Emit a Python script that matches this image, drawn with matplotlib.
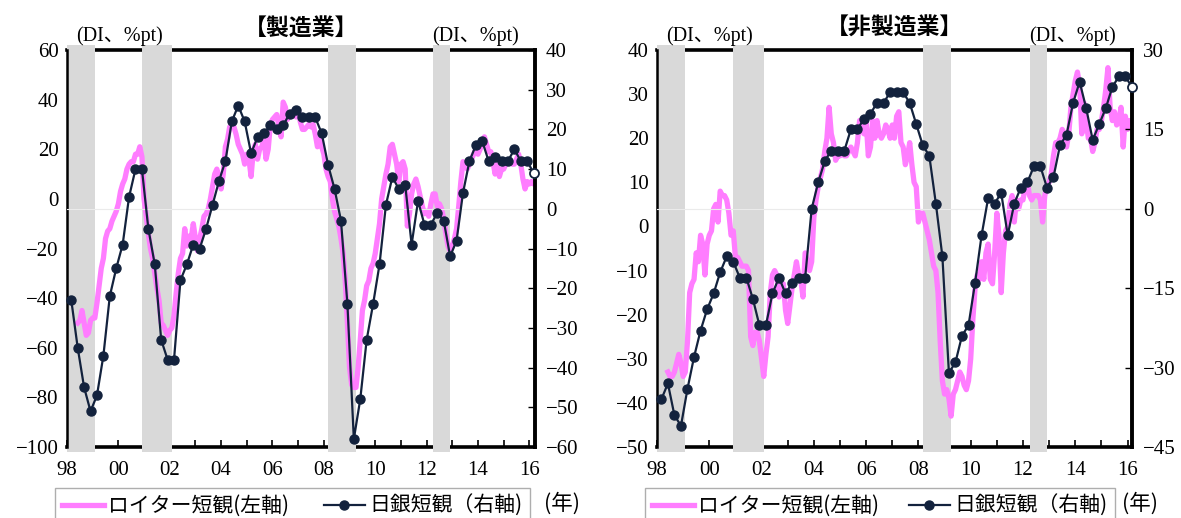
import matplotlib.pyplot as plt
import numpy as np
from matplotlib.lines import Line2D

plt.rcParams['font.family'] = ['Liberation Serif', 'Noto Sans CJK JP']

# Reuters Tankan, monthly from Jun 1998 (left axis)
reuters_mfg = [
    -50, -49, -45, -50, -55, -54, -49,                      # 1998 Jun-Dec
    -48, -48, -42, -35, -28, -24, -16, -13, -12, -9, -7, -5,  # 1999
    -2, 3, 6, 8, 12, 14, 15, 15, 18, 18, 21, 17,            # 2000
    0, -7, -14, -20, -24, -30, -36, -41, -50, -51, -53, -55,  # 2001
    -53, -52, -47, -38, -30, -24, -22, -12, -19, -15, -16, -10,  # 2002
    -16, -21, -16, -12, -7, -6, -4, 0, 5, 10, 12, 9,        # 2003
    4, 10, 21, 24, 29, 30, 29, 26, 22, 20, 18, 14,          # 2004
    18, 16, 9, 19, 22, 16, 20, 21, 24, 16, 20, 30,          # 2005
    32, 33, 34, 29, 25, 39, 37, 32, 34, 35, 34, 33,         # 2006
    36, 31, 28, 28, 29, 30, 29, 30, 26, 21, 24, 21,         # 2007
    18, 12, 9, 7, 0, -5, -8, -11, -16, -22, -33, -50,       # 2008
    -68, -75, -76, -76, -68, -57, -45, -41, -35, -33, -28, -26,  # 2009
    -22, -16, -10, 0, 5, 10, 14, 21, 22, 18, 14, 7,         # 2010
    14, 15, 12, -11, -6, 2, 6, 8, 5, 1, -3, -6,             # 2011
    -5, -7, -2, 2, 2, -3, -2, -4, -8, -14, -19, -21,        # 2012
    -19, -16, -12, -3, 7, 15, 14, 12, 14, 16, 18, 20,       # 2013
    18, 20, 23, 25, 22, 19, 19, 15, 10, 14, 9, 12,          # 2014
    12, 14, 15, 15, 14, 14, 16, 18, 14, 8, 4, 7,            # 2015
    6, 7, 6, 6,                                             # 2016 Jan-Apr
]
reuters_non = [
    -33, -34, -34, -33, -31, -29, -31,                      # 1998 Jun-Dec
    -34, -33, -26, -15, -13, -12, -6, -8, -2, -4, -11, -4,  # 1999
    -2, -1, 4, 5, 1, 8, 7, 7, 6, 3, -2, -1,                 # 2000
    -7, -7, -8, -9, -9, -9, -10, -25, -27, -24, -24, -26,   # 2001
    -30, -34, -29, -25, -15, -11, -10, -11, -16, -14, -13, -19,  # 2002
    -22, -18, -14, -11, -8, -11, -12, -16, -6, -8, -10, -8,  # 2003
    2, 6, 9, 11, 13, 17, 20, 27, 21, 19, 15, 16,            # 2004
    16, 17, 16, 16, 17, 18, 17, 16, 19, 24, 22, 21,         # 2005
    24, 16, 18, 24, 20, 24, 21, 20, 21, 23, 22, 20,         # 2006
    23, 20, 25, 26, 19, 18, 14, 16, 19, 14, 10, 9,          # 2007
    1, 3, 3, 1, -1, -3, -6, -9, -10, -15, -26, -35,         # 2008
    -38, -37, -39, -43, -38, -37, -35, -33, -34, -36, -37, -35,  # 2009
    -30, -21, -14, -11, -12, -8, -12, -6, -4, -12, -13, -6,  # 2010
    3, -2, -15, -6, -1, 0, 5, 7, 1, 6, 4, 6,                # 2011
    6, 9, 10, 7, 6, 7, 7, 7, 6, 1, 7, 9,                    # 2012
    10, 12, 16, 19, 19, 20, 22, 21, 18, 21, 27, 30,         # 2013
    33, 35, 32, 21, 28, 24, 20, 20, 17, 19, 22, 22,         # 2014
    24, 27, 31, 36, 27, 24, 26, 23, 24, 27, 18, 25,         # 2015
    22, 24, 24,                                             # 2016 Jan-Mar
]

# BOJ Tankan, quarterly from Mar 1998 (right axis); last value is the forecast
boj_mfg = [
    -23, -35, -45, -51, -47, -37, -22, -15, -9, 3, 10, 10,
    -5, -14, -33, -38, -38, -18, -14, -9, -10, -5, 1, 7,
    12, 22, 26, 22, 14, 18, 19, 21, 20, 21, 24, 25,
    23, 23, 23, 19, 11, 5, -3, -24, -58, -48, -33, -24,
    -14, 1, 8, 5, 6, -9, 2, -4, -4, -1, -3, -12,
    -8, 4, 12, 16, 17, 12, 13, 12, 12, 15, 12, 12,
]
boj_mfg_forecast = 9
boj_non = [
    -36, -33, -39, -41, -34, -28, -23, -19, -16, -12, -9, -10,
    -13, -13, -17, -22, -22, -16, -13, -16, -14, -13, -13, 0,
    5, 9, 11, 11, 11, 15, 15, 17, 18, 20, 20, 22,
    22, 22, 20, 16, 12, 10, 1, -9, -31, -29, -24, -22,
    -14, -5, 2, 1, 3, -5, 1, 4, 5, 8, 8, 4,
    6, 12, 14, 20, 24, 19, 13, 16, 19, 23, 25, 25,
]
boj_non_forecast = 23

recessions = [(1998.0, 1999.083), (2000.917, 2002.083), (2008.167, 2009.25), (2012.25, 2012.917)]
year_ticks = list(range(1998, 2017, 2))
year_labels = ['98', '00', '02', '04', '06', '08', '10', '12', '14', '16']

PINK = '#ff7dff'
NAVY = '#13223d'
SHADE = '#d9d9d9'
JP = 'Noto Sans CJK JP'


def draw_panel(ax, title, reuters, boj, forecast, l_ticks, r_ticks, xmax, leg_w, year_x):
    ax2 = ax.twinx()

    t_r = 1998 + 5 / 12 + np.arange(len(reuters)) / 12
    t_b = 1998 + 2 / 12 + np.arange(len(boj)) * 0.25
    t_f = t_b[-1] + 0.25

    for s, e in recessions:
        ax.axvspan(s, e, ymin=-0.012, ymax=1.012, color=SHADE, lw=0, zorder=2.6, clip_on=False)

    ax.plot(t_r, reuters, color=PINK, lw=3.8, zorder=3)
    ax2.axhline(0, color='#ebebeb', lw=0.8, zorder=0)
    ax2.plot(t_b, boj, color=NAVY, lw=1.6, marker='o', ms=6.5, clip_on=False, zorder=4)
    ax2.plot([t_b[-1], t_f], [boj[-1], forecast], color=NAVY, lw=1.6, zorder=4)
    ax2.plot([t_f], [forecast], 'o', mfc='white', mec=NAVY, mew=1.3, ms=6.5, clip_on=False, zorder=5)

    ax.set_xlim(1998, xmax)
    ax.set_ylim(l_ticks[0], l_ticks[-1])
    ax2.set_ylim(r_ticks[0], r_ticks[-1])
    ax.set_yticks(l_ticks)
    ax2.set_yticks(r_ticks)
    ax.set_xticks(year_ticks)
    ax.set_xticklabels(year_labels)
    ax.set_xticks(range(1999, 2017, 2), minor=True)

    ax.tick_params(axis='x', which='both', direction='in', length=5, width=1.2, pad=10, labelsize=15)
    ax.tick_params(axis='y', direction='in', length=5, width=1.0, pad=6, labelsize=15)
    ax2.tick_params(axis='y', direction='in', length=5, width=1.0, pad=8, labelsize=15)

    ax.spines['right'].set_visible(False)
    ax.spines['left'].set_linewidth(1.8)
    ax.spines['left'].set_zorder(3.5)
    for side in ['top', 'bottom']:
        ax.spines[side].set_linewidth(2.6)
    for side in ['top', 'bottom', 'left']:
        ax2.spines[side].set_visible(False)
    ax2.spines['right'].set_linewidth(2.8)

    ax.text(0.5, 1.055, title, transform=ax.transAxes, ha='center', va='center',
            fontsize=16.5, fontweight='bold', family=JP)
    ax.text(0.02, 1.035, '(DI、%pt)', transform=ax.transAxes, ha='left', va='center', fontsize=14.5)
    ax.text(0.965, 1.035, '(DI、%pt)', transform=ax.transAxes, ha='right', va='center', fontsize=14.5)

    handles = [
        Line2D([], [], color=PINK, lw=3.8),
        Line2D([], [], color=NAVY, lw=1.6, marker='o', ms=6.5),
    ]
    leg = ax.legend(handles, ['ロイター短観(左軸)', '日銀短観（右軸)'], loc='upper left',
                    bbox_to_anchor=(-0.026, -0.103, leg_w, 0.0), mode='expand', ncol=2,
                    prop={'family': JP, 'size': 15}, frameon=True, fancybox=False,
                    handlelength=2.0, handletextpad=0.2, borderpad=0.35, borderaxespad=0,
                    columnspacing=1.0, numpoints=1)
    leg.get_frame().set_edgecolor('#9a9a9a')
    leg.get_frame().set_linewidth(1.0)
    ax.text(year_x, -0.142, '(年)', transform=ax.transAxes, ha='left', va='center',
            fontsize=15.5, family=JP)


fig = plt.figure(figsize=(11.81, 5.18), dpi=100)
ax_l = fig.add_axes([67 / 1181, 1 - 447 / 518, 468 / 1181, 397 / 518])
ax_r = fig.add_axes([657 / 1181, 1 - 447 / 518, 475 / 1181, 397 / 518])

draw_panel(ax_l, '【製造業】', reuters_mfg, boj_mfg, boj_mfg_forecast,
           list(range(-100, 61, 20)), list(range(-60, 41, 10)), 2016.22, 1.015, 1.02)
draw_panel(ax_r, '【非製造業】', reuters_non, boj_non, boj_non_forecast,
           list(range(-50, 41, 10)), list(range(-45, 31, 15)), 2016.17, 0.99, 0.98)

fig.savefig('out.png', dpi=100)
